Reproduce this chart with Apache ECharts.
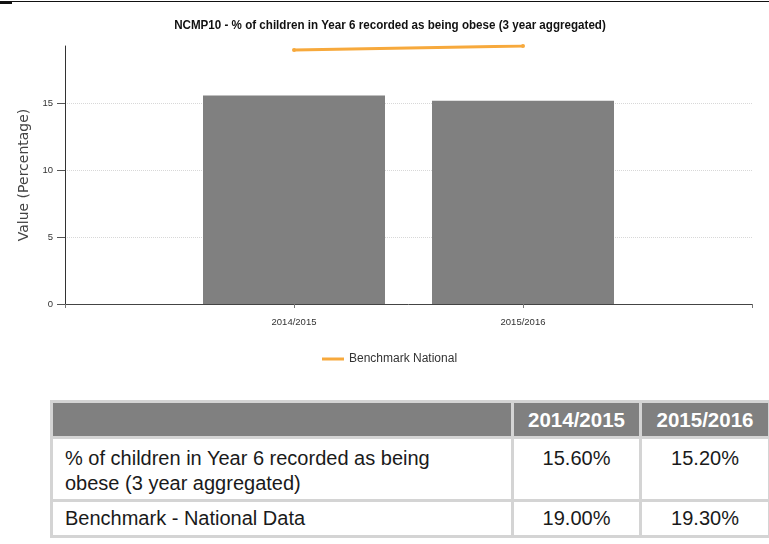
<!DOCTYPE html>
<html>
<head>
<meta charset="utf-8">
<script src="https://cdn.jsdelivr.net/npm/echarts@6/dist/echarts.min.js"></script>
<style>
  html, body { margin: 0; padding: 0; background: #fff; width: 769px; height: 544px; overflow: hidden; }
  #rule { position: absolute; left: 0; top: 1px; width: 769px; height: 1px; background: #111; }
  #rule2 { position: absolute; left: 0; top: 1px; width: 12px; height: 3px; background: #111; }
  #chart { position: absolute; left: 0; top: 0; width: 769px; height: 390px; }
  table { position: absolute; left: 50px; top: 400px; width: 718px; border-collapse: collapse;
          font-family: "Liberation Sans", Arial, sans-serif; font-size: 20px; color: #1a1a1a; table-layout: fixed; }
  td, th { border: 3px solid #d4d4d4; }
  th { background: #808080; color: #fff; font-weight: bold; height: 33px; padding: 0; text-align: center; font-size: 20.5px; }
  td { padding: 7px 24px 3px 12px; vertical-align: top; line-height: 25px; }
  td.num { text-align: center; padding-left: 4px; padding-right: 4px; }
  tr.r2 td { vertical-align: middle; padding-top: 4px; padding-bottom: 4px; }
</style>
</head>
<body>
<div id="rule"></div><div id="rule2"></div>
<div id="chart"></div>
<table id="tbl"></table>
<script>
const title = 'NCMP10 - % of children in Year 6 recorded as being obese (3 year aggregated)';
const categories = ['2014/2015', '2015/2016'];
const obeseValues = [15.6, 15.2];
const benchmarkValues = [19.0, 19.3];
const yTicks = [0, 5, 10, 15];
const barName = '% of children in Year 6 recorded as being obese (3 year aggregated)';
const lineName = 'Benchmark National';
const tableRowNames = ['% of children in Year 6 recorded as being obese (3 year aggregated)', 'Benchmark - National Data'];

// pad the category axis so the two years sit at 1/3 and 2/3 of the axis
const axisCats = [''].concat(categories, ['']);
const pad = arr => [null].concat(arr, [null]);

const chart = echarts.init(document.getElementById('chart'));
const sans = '"Liberation Sans", Arial, sans-serif';
chart.setOption({
  animation: false,
  graphic: [{
    type: 'text', x: 390, y: 25, scaleX: 0.86, silent: true,
    style: { text: title, align: 'center', verticalAlign: 'middle',
             font: 'bold 13.5px "Liberation Sans", Arial, sans-serif', fill: '#111' }
  }],
  legend: {
    data: [lineName], left: 322, top: 353, padding: 0, icon: 'rect', itemWidth: 22, itemHeight: 3, itemGap: 6,
    textStyle: { fontFamily: sans, fontSize: 12, color: '#333' }
  },
  grid: { left: 65, right: 17, top: 46, bottom: 86 },
  xAxis: {
    type: 'category', data: axisCats, boundaryGap: false,
    axisLine: { lineStyle: { color: '#444', width: 1 } },
    axisTick: { show: true, length: 4, lineStyle: { color: '#777' } },
    axisLabel: { fontFamily: sans, fontSize: 9.5, color: '#333', margin: 13, interval: 0 },
    splitLine: { show: false }
  },
  yAxis: {
    type: 'value', min: 0, max: 'dataMax',
    name: 'Value (Percentage)', nameLocation: 'middle', nameGap: 31,
    nameTextStyle: { fontFamily: '"DejaVu Sans", sans-serif', fontSize: 14, color: '#444' },
    axisLine: { show: true, lineStyle: { color: '#333', width: 1 } },
    axisTick: { show: true, length: 8, customValues: yTicks, lineStyle: { color: '#555' } },
    axisLabel: { customValues: yTicks, fontFamily: sans, fontSize: 9.5, color: '#333', margin: 12 },
    splitLine: { show: true, lineStyle: { color: '#d8d8d8', type: 'dotted', width: 1 } }
  },
  series: [
    {
      name: barName, type: 'bar', data: pad(obeseValues), barWidth: 182,
      itemStyle: { color: '#808080' }
    },
    {
      name: lineName, type: 'line', data: pad(benchmarkValues),
      lineStyle: { color: '#f7a93c', width: 3 }, itemStyle: { color: '#f7a93c' },
      symbol: 'circle', symbolSize: 4, showSymbol: true, z: 5
    }
  ]
});

// table
const tbl = document.getElementById('tbl');
let html = '<colgroup><col style="width:461px"><col style="width:128px"><col style="width:129px"></colgroup>';
html += '<tr><th></th>' + categories.map(c => '<th>' + c + '</th>').join('') + '</tr>';
const fmt = v => v.toFixed(2) + '%';
html += '<tr class="r1"><td>' + tableRowNames[0] + '</td>' + obeseValues.map(v => '<td class="num">' + fmt(v) + '</td>').join('') + '</tr>';
html += '<tr class="r2"><td>' + tableRowNames[1] + '</td>' + benchmarkValues.map(v => '<td class="num">' + fmt(v) + '</td>').join('') + '</tr>';
tbl.innerHTML = html;
</script>
</body>
</html>
